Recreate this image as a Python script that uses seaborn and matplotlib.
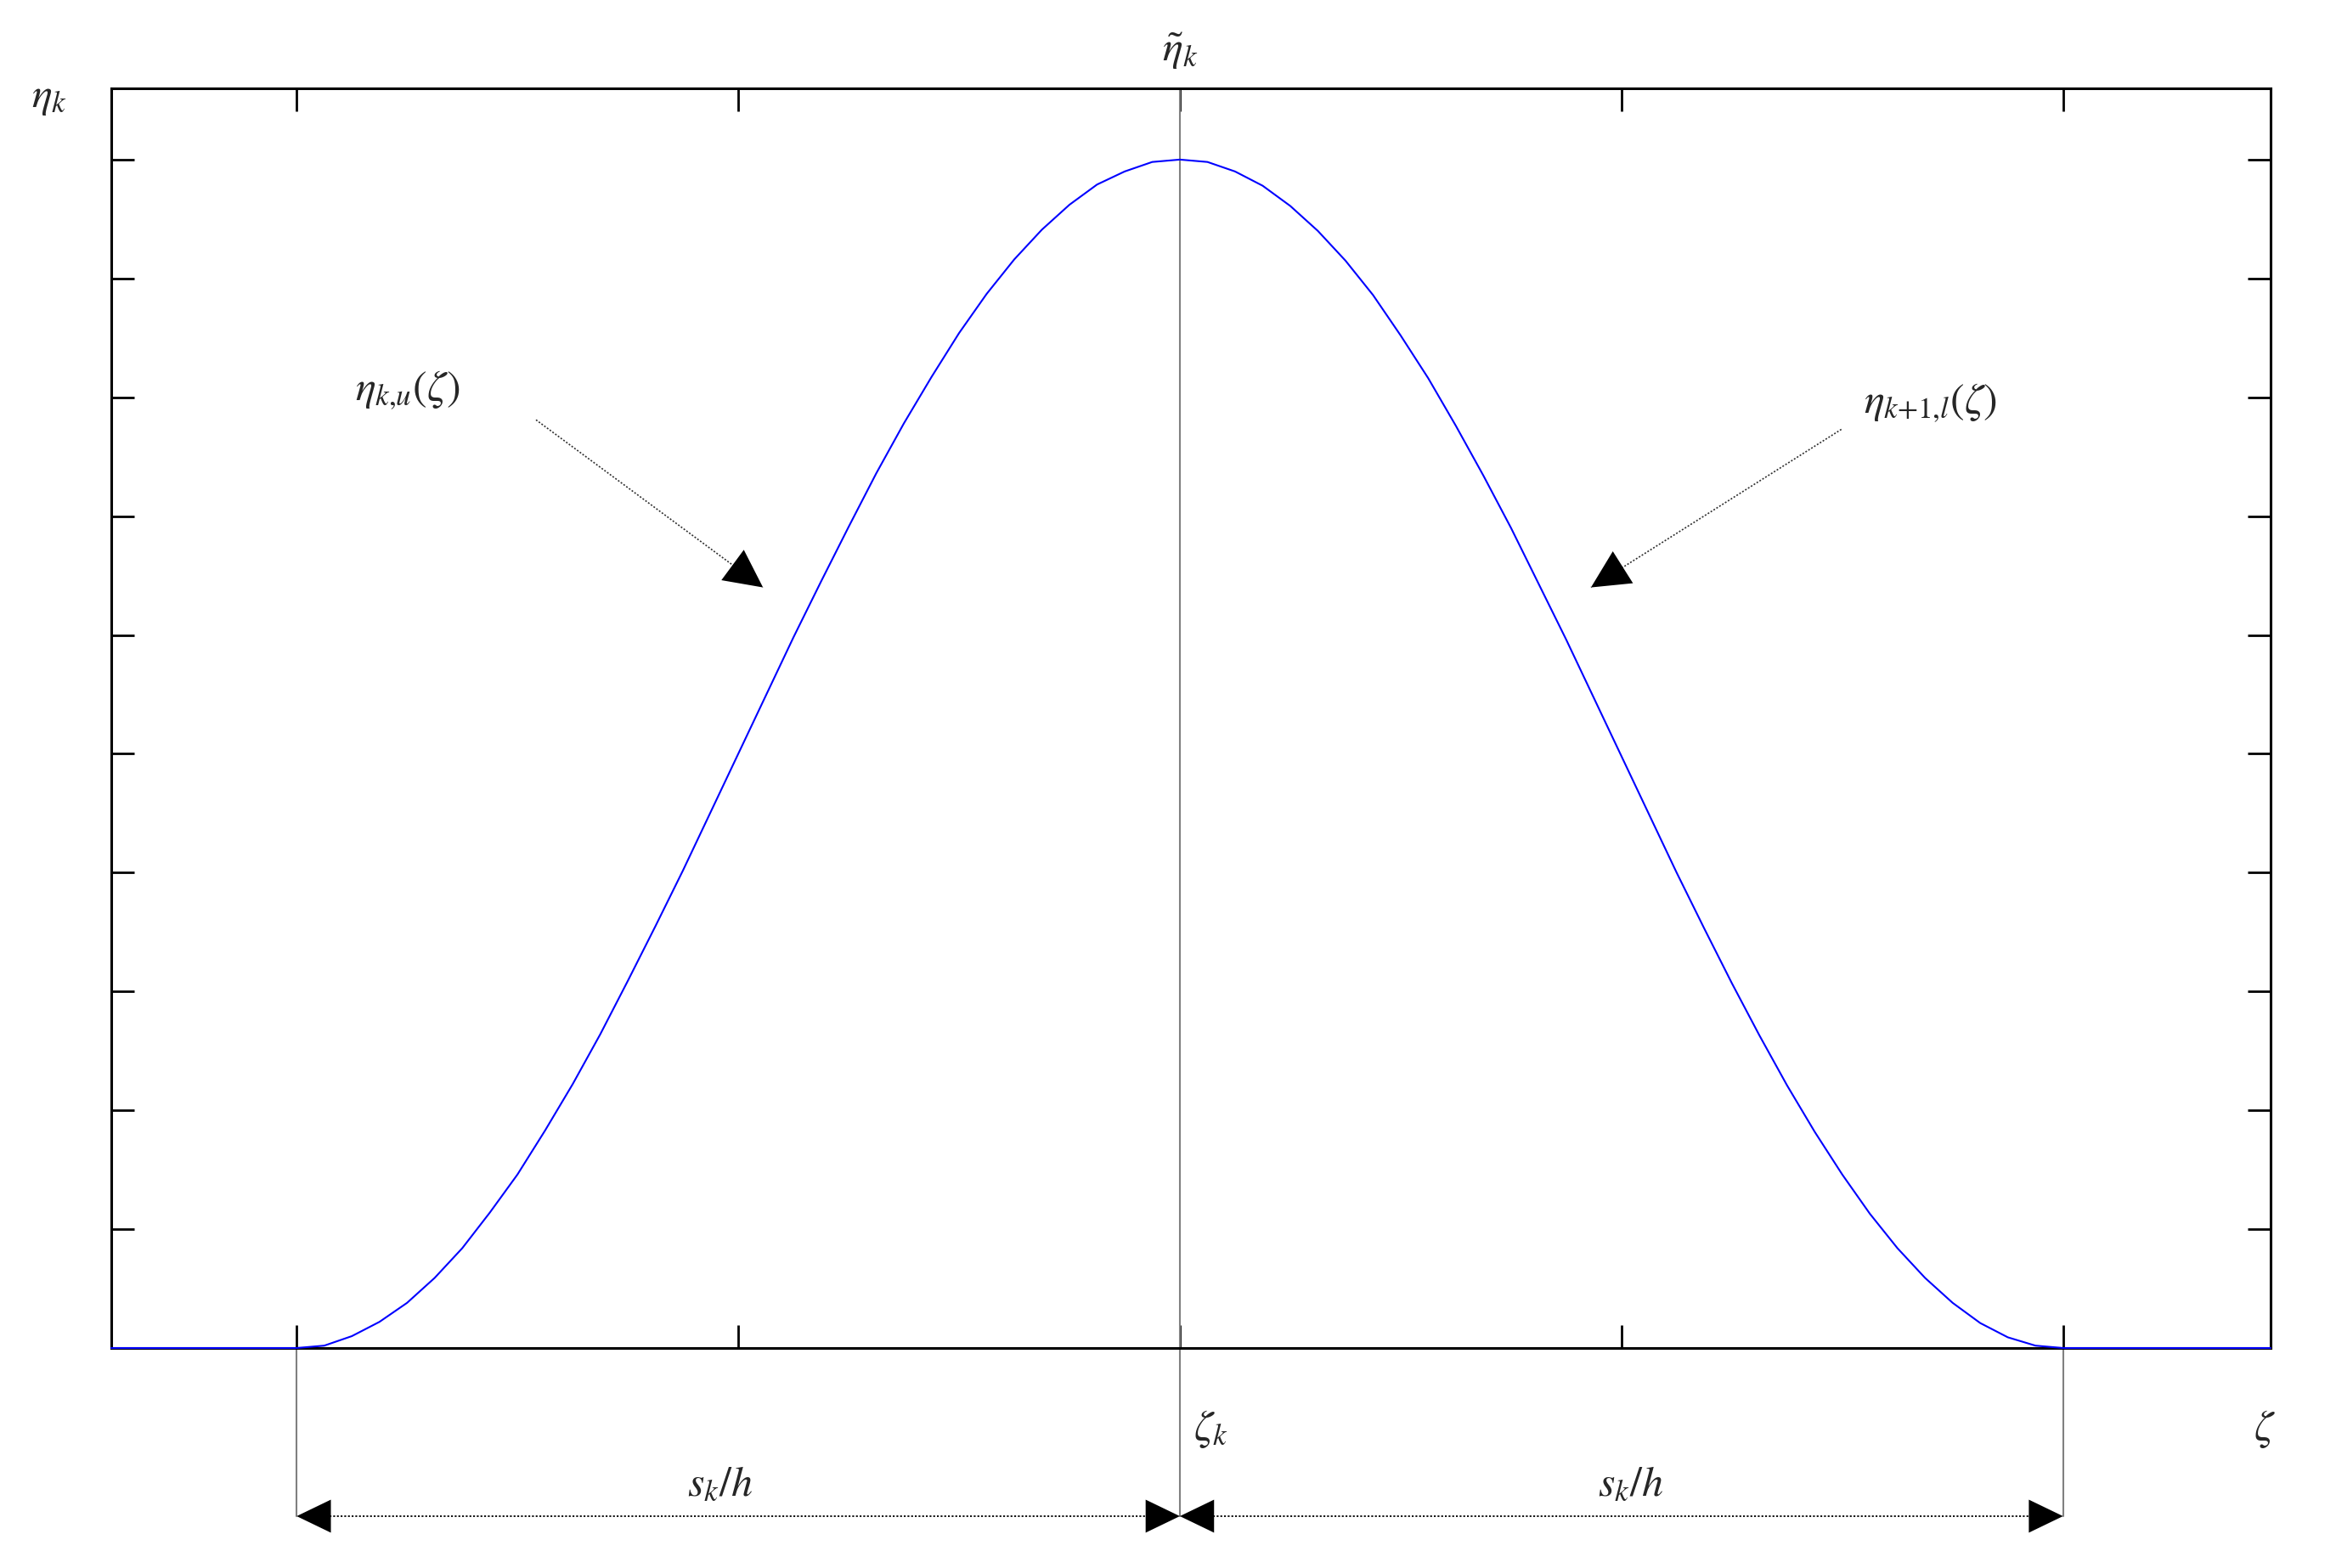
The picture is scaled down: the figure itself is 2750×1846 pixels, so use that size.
import matplotlib
matplotlib.use('Agg')
import matplotlib.pyplot as plt
import seaborn as sns

# кривая eta(zeta): плоские участки + "колокол" между zeta_k - s_k/h и zeta_k + s_k/h
zeta = [-2.42, -2.0, -1.9375, -1.875, -1.8125, -1.75, -1.6875, -1.625, -1.5625,
        -1.5, -1.4375, -1.375, -1.3125, -1.25, -1.1875, -1.125, -1.0625,
        -1.0, -0.9375, -0.875, -0.8125, -0.75, -0.6875, -0.625, -0.5625,
        -0.5, -0.4375, -0.375, -0.3125, -0.25, -0.1875, -0.125, -0.0625,
        0.0, 0.0625, 0.125, 0.1875, 0.25, 0.3125, 0.375, 0.4375,
        0.5, 0.5625, 0.625, 0.6875, 0.75, 0.8125, 0.875, 0.9375,
        1.0, 1.0625, 1.125, 1.1875, 1.25, 1.3125, 1.375, 1.4375,
        1.5, 1.5625, 1.625, 1.6875, 1.75, 1.8125, 1.875, 1.9375, 2.0, 2.47]
eta = [0.0, 0.0, 0.002, 0.010, 0.022, 0.038, 0.059, 0.084, 0.114,
       0.146, 0.183, 0.222, 0.264, 0.309, 0.355, 0.402, 0.451,
       0.500, 0.549, 0.598, 0.645, 0.691, 0.736, 0.778, 0.817,
       0.854, 0.887, 0.916, 0.941, 0.962, 0.979, 0.990, 0.998,
       1.000, 0.998, 0.990, 0.978, 0.961, 0.940, 0.915, 0.886,
       0.852, 0.816, 0.776, 0.734, 0.690, 0.643, 0.596, 0.547,
       0.498, 0.449, 0.400, 0.353, 0.307, 0.263, 0.221, 0.182,
       0.146, 0.113, 0.084, 0.059, 0.038, 0.021, 0.009, 0.002, 0.0, 0.0]

# начало носителя, zeta_k, конец носителя
knots = [-2.0, 0.0, 2.0]

x_ticks = [-2, -1, 0, 1, 2]
y_ticks = [0.1, 0.2, 0.3, 0.4, 0.5, 0.6, 0.7, 0.8, 0.9, 1.0]

sns.set_theme(style='white')
plt.rcParams['mathtext.fontset'] = 'stix'
plt.rcParams['font.family'] = ['STIXGeneral', 'DejaVu Serif']

fig = plt.figure(figsize=(27.5, 18.46), dpi=100)
ax = fig.add_axes([0.0476, 0.1403, 0.9244, 0.8034])

sns.lineplot(x=zeta, y=eta, ax=ax, color='#0000ff', lw=1.5, sort=False,
             estimator=None, clip_on=False, zorder=3)

ax.set_xlim(-2.42, 2.47)
ax.set_ylim(0, 1.06)
ax.set_xticks(x_ticks)
ax.set_yticks(y_ticks)
ax.tick_params(direction='in', length=19.5, width=2, colors='black',
               top=True, right=True, bottom=True, left=True,
               labelbottom=False, labelleft=False)
for sp in ax.spines.values():
    sp.set_visible(True)
    sp.set_color('black')
    sp.set_linewidth(2.2)

dim_y = -0.1415
left, mid, right = knots

# вертикальные линии
ax.plot([mid, mid], [1.06, dim_y], color='#808080', lw=1.5, clip_on=False, zorder=1)
ax.plot([left, left], [0, dim_y], color='#808080', lw=1.5, clip_on=False, zorder=1)
ax.plot([right, right], [0, dim_y], color='#808080', lw=1.5, clip_on=False, zorder=1)

# размерные стрелки s_k/h
head = dict(arrowstyle='-|>,head_length=1.45,head_width=0.7', mutation_scale=20,
            color='black', lw=0, shrinkA=0, shrinkB=0)
for a, b in [(left, mid), (mid, right)]:
    ax.plot([a + 0.05, b - 0.05], [dim_y, dim_y], color='black', lw=1.3,
            dashes=(1.2, 1.2), clip_on=False)
    ax.annotate('', xy=(a, dim_y), xytext=(a + 0.1, dim_y), arrowprops=head,
                annotation_clip=False)
    ax.annotate('', xy=(b, dim_y), xytext=(b - 0.1, dim_y), arrowprops=head,
                annotation_clip=False)

# стрелки-указатели на ветви кривой
head2 = dict(arrowstyle='-|>,head_length=1.6,head_width=0.8', mutation_scale=20,
             color='black', lw=0, shrinkA=0, shrinkB=0)
for (x0, y0), (x1, y1) in [((-1.458, 0.781), (-0.944, 0.640)),
                           ((1.498, 0.773), (0.931, 0.640))]:
    ax.plot([x0, x1], [y0, y1], color='#303030', lw=1.2, dashes=(1.2, 1.2))
    ax.annotate('', xy=(x1, y1), xytext=(x1 + 0.3 * (x0 - x1), y1 + 0.3 * (y0 - y1)),
                arrowprops=head2)

fs = 36
ax.text(-2.56, 1.052, r'$\eta_k$', fontsize=fs, ha='center', va='center')
ax.text(0.0, 1.0915, r'$\tilde{\eta}_k$', fontsize=fs, ha='center', va='center')
ax.text(0.071, -0.0686, r'$\zeta_k$', fontsize=fs, ha='center', va='center')
ax.text(2.456, -0.0686, r'$\zeta$', fontsize=fs, ha='center', va='center')
ax.text(-1.042, -0.1158, r'$s_k/h$', fontsize=fs, ha='center', va='center')
ax.text(1.021, -0.1158, r'$s_k/h$', fontsize=fs, ha='center', va='center')
ax.text(-1.75, 0.806, r'$\eta_{k{,}u}(\zeta)$', fontsize=fs, ha='center', va='center')
ax.text(1.70, 0.795, r'$\eta_{k{+}1{,}l}(\zeta)$', fontsize=fs, ha='center', va='center')

fig.savefig('out.png', dpi=100, facecolor='white')
